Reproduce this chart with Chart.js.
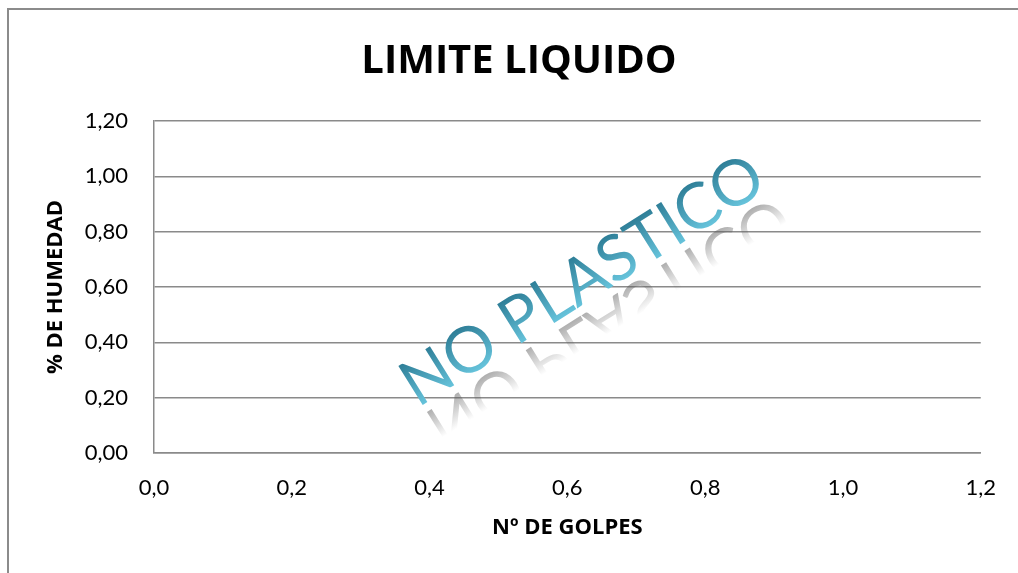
<!DOCTYPE html>
<html>
<head>
<meta charset="utf-8">
<script src="https://cdn.jsdelivr.net/npm/chart.js@4.4.1/dist/chart.umd.min.js"></script>
<style>
  html, body { margin: 0; padding: 0; background: #ffffff; overflow: hidden; }
  #wrap { position: relative; width: 1018px; height: 573px; }
</style>
</head>
<body>
<div id="wrap"><canvas id="c" width="1018" height="573"></canvas></div>
<script>
// Texts
const chartTitle = 'LIMITE LIQUIDO';
const xAxisTitle = 'Nº DE GOLPES';
const yAxisTitle = '% DE HUMEDAD';
const stampText = 'NO PLASTICO';

// Axis ticks
const xTickValues = [0, 0.2, 0.4, 0.6, 0.8, 1.0, 1.2];
const yTickValues = [0, 0.2, 0.4, 0.6, 0.8, 1.0, 1.2];

// Series (sample is non-plastic: no points recorded)
const golpes = [];
const humedad = [];

const points = golpes.map((g, i) => ({ x: g, y: humedad[i] }));

const GRID = '#8a8a8a';
const FONT = 'Lato, "Open Sans", sans-serif';
const BOLD_FONT = '"Open Sans", Lato, sans-serif';

// Outer chart frame and white background
const framePlugin = {
  id: 'frame',
  beforeDraw(chart) {
    const ctx = chart.ctx;
    ctx.save();
    ctx.fillStyle = '#ffffff';
    ctx.fillRect(0, 0, chart.width, chart.height);
    ctx.strokeStyle = '#8b8b8b';
    ctx.lineWidth = 2;
    ctx.strokeRect(8, 9, chart.width + 50, chart.height + 50);
    ctx.restore();
  }
};

// Chart heading, centred on the whole frame
const headingPlugin = {
  id: 'heading',
  afterDraw(chart) {
    const ctx = chart.ctx;
    ctx.save();
    ctx.font = '700 40px ' + BOLD_FONT;
    ctx.fillStyle = '#000000';
    ctx.textAlign = 'center';
    ctx.textBaseline = 'alphabetic';
    ctx.fillText(chartTitle, (chart.width + 20) / 2, 73);
    ctx.restore();
  }
};

// Rotated "NO PLASTICO" stamp with reflection
const stampPlugin = {
  id: 'stamp',
  afterDraw(chart) {
    const a = chart.chartArea;
    const ctx = chart.ctx;
    const size = 64;
    const cap = size * 0.72;
    const base = cap / 2;
    const gap = 8;
    const cx = a.left + a.width * 0.517;
    const cy = a.top + a.height * 0.475;
    ctx.save();
    ctx.translate(cx, cy);
    ctx.rotate(-32 * Math.PI / 180);
    ctx.font = '400 ' + size + 'px ' + FONT;
    ctx.textAlign = 'center';
    ctx.textBaseline = 'alphabetic';

    // reflection
    ctx.save();
    ctx.translate(0, 2 * base + gap);
    ctx.scale(1, -1);
    const rg = ctx.createLinearGradient(0, base, 0, base - cap * 0.65);
    rg.addColorStop(0, 'rgba(95,95,95,0.5)');
    rg.addColorStop(1, 'rgba(95,95,95,0)');
    ctx.fillStyle = rg;
    ctx.fillText(stampText, 0, base);
    ctx.restore();

    // main text
    const g = ctx.createLinearGradient(0, base - cap, 0, base);
    g.addColorStop(0, '#2f7f98');
    g.addColorStop(1, '#66c3db');
    ctx.fillStyle = g;
    ctx.fillText(stampText, 0, base);
    ctx.restore();
  }
};

new Chart(document.getElementById('c'), {
  type: 'scatter',
  data: {
    datasets: [{
      label: 'Humedad',
      data: points,
      pointRadius: 4,
      backgroundColor: '#4f81bd',
      borderColor: '#4f81bd'
    }]
  },
  options: {
    responsive: false,
    animation: false,
    devicePixelRatio: 1,
    layout: { padding: { left: 0, right: 34, top: 121, bottom: 0 } },
    plugins: {
      legend: { display: false },
      tooltip: { enabled: false },
      title: { display: false }
    },
    scales: {
      x: {
        type: 'linear',
        min: 0,
        max: 1.2,
        afterBuildTicks(s) { s.ticks = xTickValues.map(v => ({ value: v })); },
        afterFit(s) { s.height = 120; },
        grid: { display: false, drawTicks: false },
        border: { display: true, color: GRID, width: 1.5 },
        ticks: {
          padding: 22,
          color: '#000000',
          font: { family: FONT, size: 22 },
          maxRotation: 0,
          callback: v => Number(v).toFixed(1).replace('.', ',')
        },
        title: {
          display: true,
          text: xAxisTitle,
          color: '#000000',
          font: { family: BOLD_FONT, size: 22, weight: 'bold', lineHeight: 1.2 },
          padding: { top: 0, bottom: 32 }
        }
      },
      y: {
        type: 'linear',
        min: 0,
        max: 1.2,
        afterBuildTicks(s) { s.ticks = yTickValues.map(v => ({ value: v })); },
        afterFit(s) { s.width = 154; },
        grid: { display: true, drawTicks: false, color: GRID, lineWidth: 1.5 },
        border: { display: true, color: GRID, width: 1.5 },
        ticks: {
          padding: 26,
          color: '#000000',
          font: { family: FONT, size: 22 },
          callback: v => Number(v).toFixed(2).replace('.', ',')
        },
        title: {
          display: true,
          text: yAxisTitle,
          color: '#000000',
          font: { family: BOLD_FONT, size: 22, weight: 'bold', lineHeight: 1.2 },
          padding: { top: 43, bottom: 0 }
        }
      }
    }
  },
  plugins: [framePlugin, headingPlugin, stampPlugin]
});
</script>
</body>
</html>
